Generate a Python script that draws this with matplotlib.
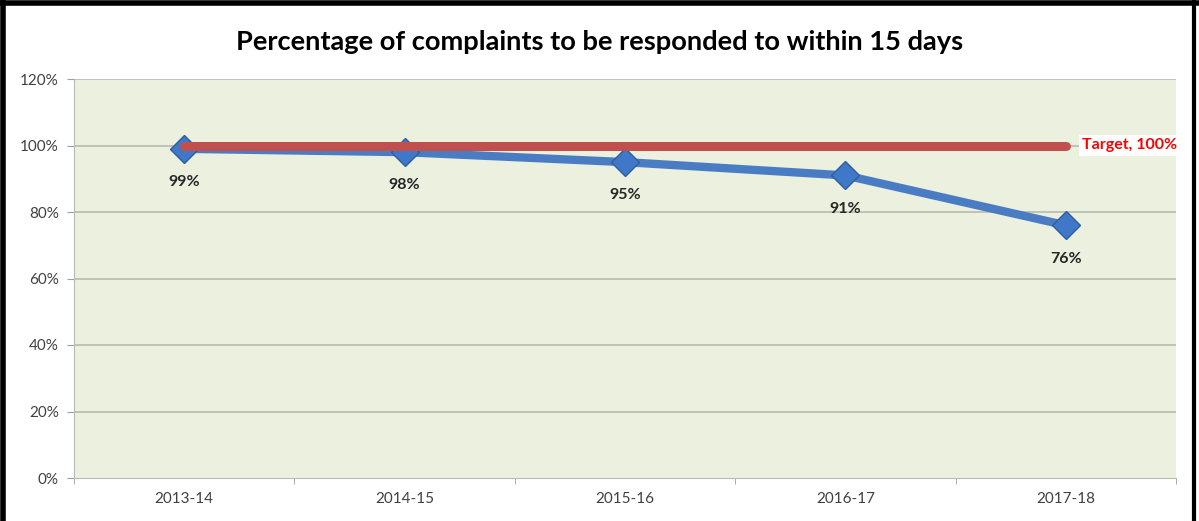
import matplotlib
matplotlib.use("Agg")
import matplotlib.pyplot as plt
from matplotlib.lines import Line2D
from matplotlib.ticker import FuncFormatter, FixedLocator

categories = ["2013-14", "2014-15", "2015-16", "2016-17", "2017-18"]
values = [99, 98, 95, 91, 76]
target = [100, 100, 100, 100, 100]
target_label = "Target, 100%"
title = "Percentage of complaints to be responded to within 15 days"

plt.rcParams['font.family'] = ['Lato', 'DejaVu Sans']

fig = plt.figure(figsize=(11.99, 5.21), dpi=100)
W, H = 1199, 521
ax = fig.add_axes([74 / W, 1 - 478 / H, 1102 / W, 399 / H])
ax.set_facecolor("#EBF0DF")

x = list(range(len(categories)))
ax.set_xlim(-0.5, len(categories) - 0.5)
ax.set_ylim(0, 120)

for yv in range(20, 121, 20):
    ax.axhline(yv, color="#B8BBB0", lw=1.2, zorder=1)

ax.plot(x, values, color="#4A7CC4", lw=6, zorder=3, solid_capstyle="round")
ax.plot(x, values, linestyle="none", marker="D", markersize=14,
        markerfacecolor="#3F78C8", markeredgecolor="#2F5E9E", markeredgewidth=1, zorder=4)
ax.plot(x, target, color="#C0504D", lw=6.5, zorder=5, solid_capstyle="round")

for xi, v in zip(x, values):
    ax.annotate(f"{v}%", (xi, v), xytext=(0, -24), textcoords="offset points",
                ha="center", va="center", fontsize=11.5, fontweight="bold", color="#262626")
ax.annotate(target_label, (x[-1], target[-1]), xytext=(12, 0), textcoords="offset points",
            ha="left", va="center", fontsize=11.5, fontweight="bold", color="#FF0000",
            bbox=dict(boxstyle="square,pad=0.2", fc="white", ec="none"), zorder=6)

ax.yaxis.set_major_locator(FixedLocator(range(0, 121, 20)))
ax.yaxis.set_major_formatter(FuncFormatter(lambda v, p: f"{int(v)}%"))
ax.set_xticks(x)
ax.set_xticklabels(categories)
ax.set_xticks([i - 0.5 for i in range(len(categories) + 1)], minor=True)
ax.tick_params(axis="x", which="major", length=0, pad=10, labelsize=11, labelcolor="#404040")
ax.tick_params(axis="x", which="minor", length=4, color="#A0A0A0")
ax.tick_params(axis="y", length=5, color="#A0A0A0", labelsize=11, labelcolor="#404040", pad=6)

for s in ["top", "right"]:
    ax.spines[s].set_visible(False)
ax.spines["left"].set_color("#B8BBB0")
ax.spines["bottom"].set_color("#B8BBB0")

fig.text(600 / W, 1 - 42 / H, title, ha="center", va="center", fontsize=19.6, fontweight="bold", color="#000000")

# outer black border
fig.add_artist(Line2D([0, 1], [1 - 2.5 / H, 1 - 2.5 / H], transform=fig.transFigure, color="black", lw=4))
fig.add_artist(Line2D([3 / W, 3 / W], [0, 1], transform=fig.transFigure, color="black", lw=4))
fig.add_artist(Line2D([1 - 5 / W, 1 - 5 / W], [0, 1], transform=fig.transFigure, color="black", lw=3))

fig.savefig("out.png", dpi=100, facecolor="white")
